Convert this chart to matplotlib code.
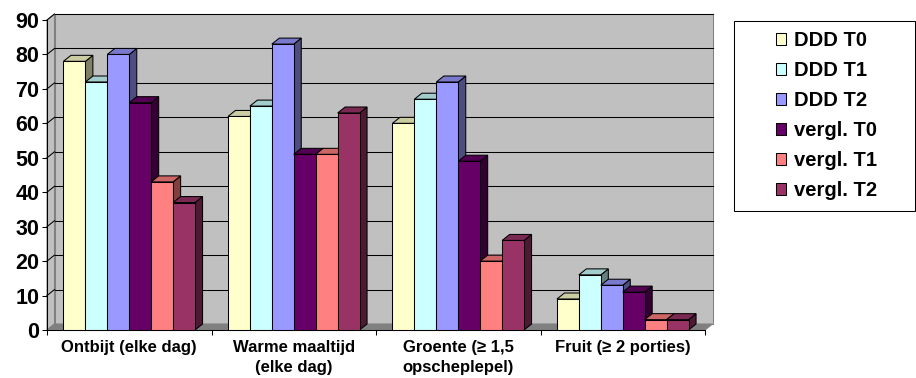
import matplotlib.pyplot as plt
from matplotlib.patches import Polygon, Rectangle, Patch
from matplotlib.colors import to_rgb

plt.rcParams['font.family'] = ['Liberation Sans', 'DejaVu Sans']
plt.rcParams['font.weight'] = 'bold'

categories = ["Ontbijt (elke dag)", "Warme maaltijd\n(elke dag)",
              "Groente (\u2265 1,5\nopscheplepel)", "Fruit (\u2265 2 porties)"]
series = ["DDD T0", "DDD T1", "DDD T2", "vergl. T0", "vergl. T1", "vergl. T2"]
ddd_t0 = [78, 62, 60, 9]
ddd_t1 = [72, 65, 67, 16]
ddd_t2 = [80, 83, 72, 13]
vergl_t0 = [66, 51, 49, 11]
vergl_t1 = [43, 51, 20, 3]
vergl_t2 = [37, 63, 26, 3]
values = [ddd_t0, ddd_t1, ddd_t2, vergl_t0, vergl_t1, vergl_t2]
colours = ["#FFFFCC", "#CCFFFF", "#9999FF", "#660066", "#FF8080", "#993366"]
yticks = list(range(0, 91, 10))


def shade(c, f):
    r, g, b = to_rgb(c)
    return (r * f, g * f, b * f)


W, H = 916, 378
fig = plt.figure(figsize=(W / 100, H / 100), dpi=100)
# front plane of the plot in pixels: x 47..705, y 20..330
ax = fig.add_axes([47 / W, (H - 330) / H, (705 - 47) / W, (330 - 20) / H])
ax.set_xlim(0, 4)
ax.set_ylim(0, 90)

# depth offset of the 3d box (about 7.5 px right, 6 px up)
dx = 7.5 * 4 / (705 - 47)
dy = 6 * 90 / (330 - 20)
lw = 0.75

# walls and floor
ax.add_patch(Rectangle((dx, dy), 4, 90, facecolor="#C0C0C0", edgecolor="#808080",
                       lw=lw, zorder=0, clip_on=False))
ax.add_patch(Polygon([(0, 0), (dx, dy), (dx, 90 + dy), (0, 90)], closed=True,
                     facecolor="#C0C0C0", edgecolor="#808080", lw=lw, zorder=0, clip_on=False))
ax.add_patch(Polygon([(0, 0), (4, 0), (4 + dx, dy), (dx, dy)], closed=True,
                     facecolor="#808080", edgecolor="#808080", lw=lw, zorder=0.5, clip_on=False))
for v in yticks[1:]:
    ax.plot([dx, 4 + dx], [v + dy, v + dy], color="black", lw=lw, zorder=1, clip_on=False)
    ax.plot([0, dx], [v, v + dy], color="black", lw=lw, zorder=1, clip_on=False)

# bars with side and top faces, drawn left to right so neighbours overlap correctly
w = 1 / 7.5
for i in range(len(categories)):
    for j, vals in enumerate(values):
        h = vals[i]
        left = i + 0.75 * w + j * w
        right = left + w
        z = 2 + (i * 6 + j) * 0.01
        side = Polygon([(right, 0), (right + dx, dy), (right + dx, h + dy), (right, h)],
                       closed=True, facecolor=shade(colours[j], 0.5), edgecolor="black",
                       lw=lw, zorder=z, clip_on=False)
        top = Polygon([(left, h), (right, h), (right + dx, h + dy), (left + dx, h + dy)],
                      closed=True, facecolor=shade(colours[j], 0.8), edgecolor="black",
                      lw=lw, zorder=z, clip_on=False)
        ax.add_patch(side)
        ax.add_patch(top)
        bar = ax.bar(left, h, width=w, align="edge", color=colours[j],
                     edgecolor="black", lw=lw, clip_on=False)
        bar.patches[0].set_zorder(z + 0.005)

for s in ["top", "right"]:
    ax.spines[s].set_visible(False)
for s in ["left", "bottom"]:
    ax.spines[s].set_linewidth(lw)
    ax.spines[s].set_zorder(3)
ax.set_facecolor("none")

ax.set_yticks(yticks)
ax.tick_params(axis="y", length=3.6, width=lw, labelsize=15.5, pad=2)
ax.set_xticks([0, 1, 2, 3, 4])
ax.set_xticklabels([])
ax.set_xticks([0.5, 1.5, 2.5, 3.5], minor=True)
ax.set_xticklabels(categories, minor=True, fontsize=12, linespacing=1.4)
ax.tick_params(axis="x", which="major", length=3.6, width=lw)
ax.tick_params(axis="x", which="minor", length=0, pad=7)

# legend box
fig.add_artist(Rectangle((734 / W, 1 - 211 / H), 181 / W, 190 / H, transform=fig.transFigure,
                         facecolor="white", edgecolor="black", lw=lw))
handles = [Patch(facecolor=c, edgecolor="black", lw=lw) for c in colours]
fig.legend(handles, series, loc="upper left", bbox_to_anchor=(776 / W, 1 - 31 / H),
           frameon=False, fontsize=14.5, borderpad=0, borderaxespad=0,
           handlelength=0.5, handleheight=0.5, handletextpad=0.4, labelspacing=0.55)

fig.savefig("out.png", dpi=100)
